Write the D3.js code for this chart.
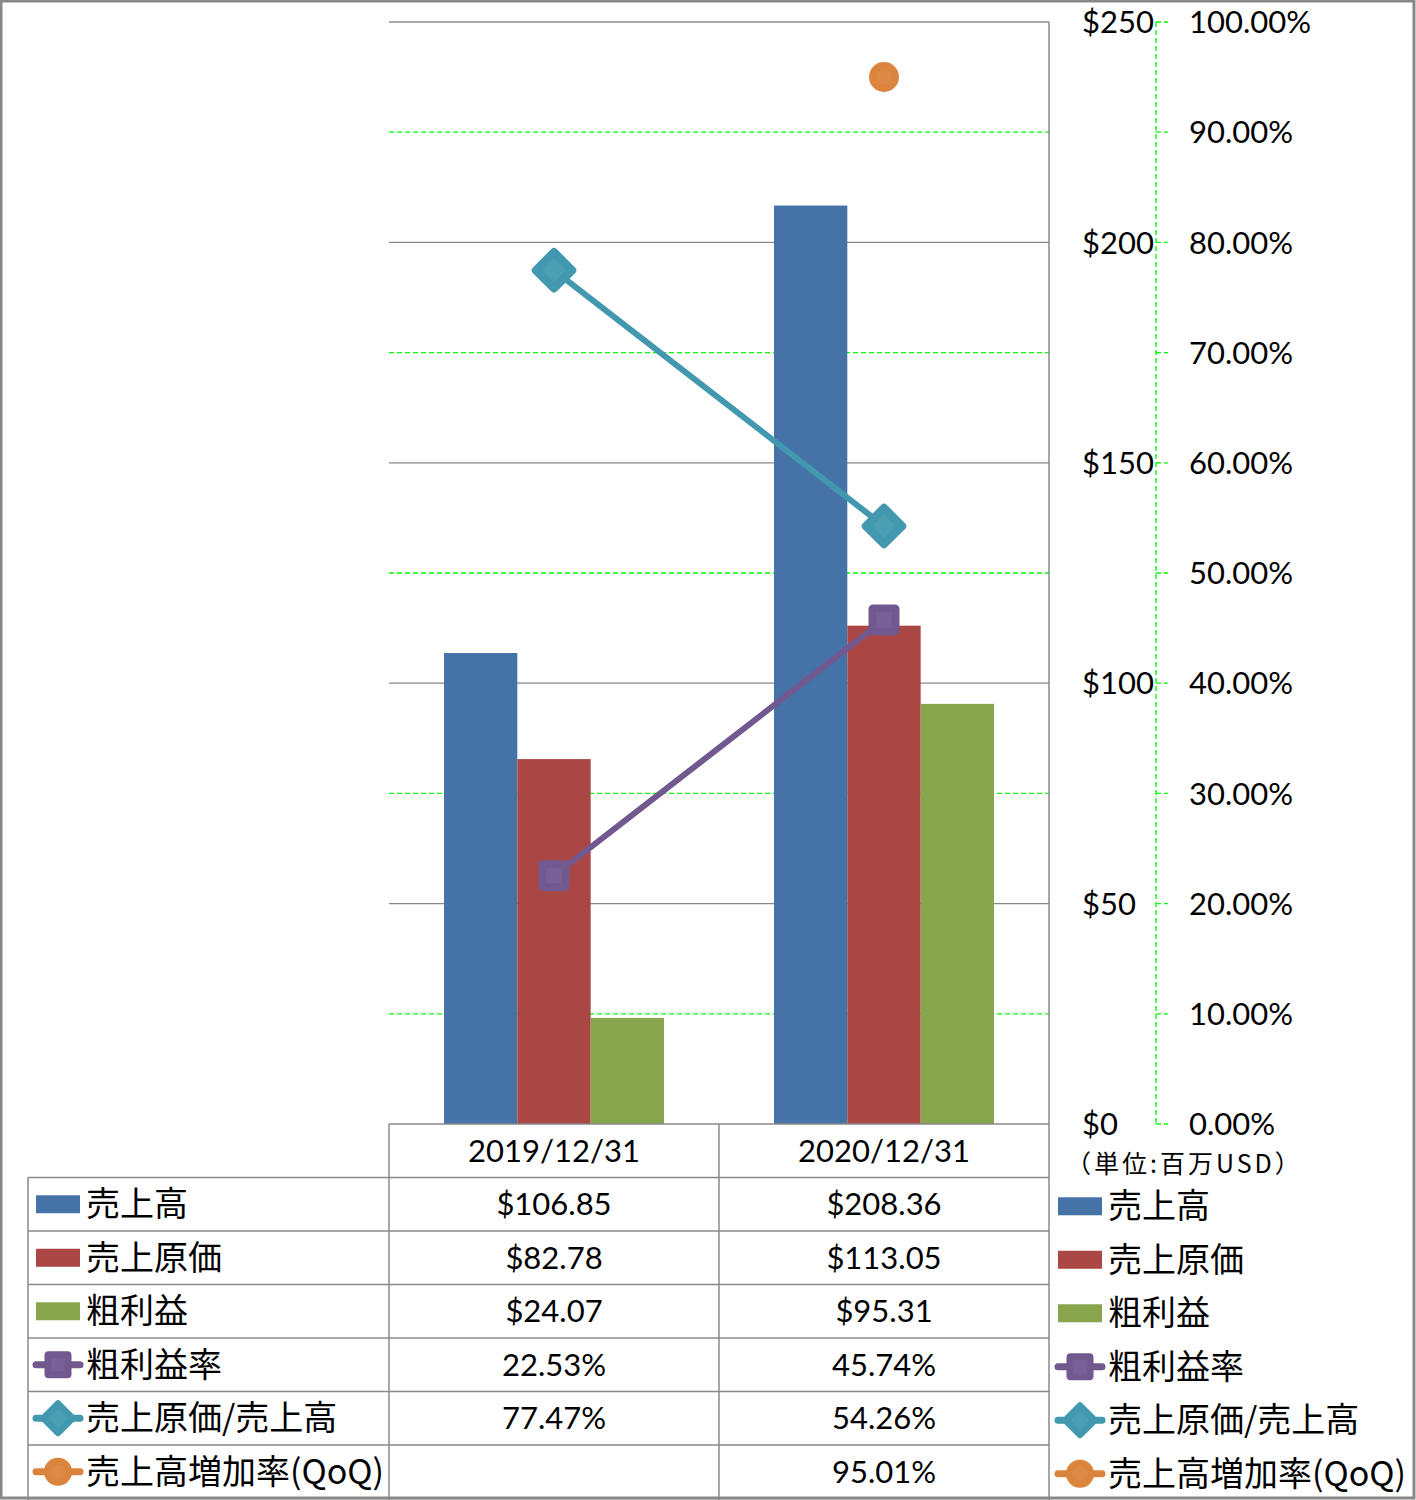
<!DOCTYPE html>
<html>
<head>
<meta charset="utf-8">
<script src="https://cdn.jsdelivr.net/npm/d3@7"></script>
<style>
  body { margin: 0; background: #fff; }
  text { font-family: "Noto Sans CJK JP", "Noto Sans", sans-serif; fill: #000; }
  text.num { font-family: Lato, "Noto Sans", sans-serif; }
</style>
</head>
<body>
<svg id="chart" width="1416" height="1500"></svg>
<script>
// data
var categories = ["2019/12/31", "2020/12/31"];
var sales = [106.85, 208.36];
var cogs = [82.78, 113.05];
var grossProfit = [24.07, 95.31];
var grossMargin = [22.53, 45.74];
var cogsRatio = [77.47, 54.26];
var salesGrowth = [null, 95.01];
var moneyTicks = [0, 50, 100, 150, 200, 250];
var pctTicks = [0, 10, 20, 30, 40, 50, 60, 70, 80, 90, 100];

var barNames = ["売上高", "売上原価", "粗利益"];
var lineNames = ["粗利益率", "売上原価/売上高", "売上高増加率(QoQ)"];

var colors = {
    "売上高": "#4572A7", "売上原価": "#AA4643", "粗利益": "#89A54E",
    "粗利益率": "#71588F", "売上原価/売上高": "#4198AF", "売上高増加率(QoQ)": "#DB843D"
};

var barSeries = [sales, cogs, grossProfit];
var lineSeries = [grossMargin, cogsRatio, salesGrowth];

var margin = { top: 22, left: 389, right: 1049, bottom: 1124 },
    rowH = 53.5,
    tableTop = 1124,
    numSize = "31px";

var svg = d3.select("#chart");

var x = d3.scaleBand().domain(categories).range([margin.left, margin.right]).padding(0);
var xInner = d3.scaleBand().domain(barNames).range([0, x.bandwidth() * 2 / 3]);
var yMoney = d3.scaleLinear().domain([0, 250]).range([margin.bottom, margin.top]);
var yPct = d3.scaleLinear().domain([0, 100]).range([margin.bottom, margin.top]);

// gridlines: green dashed at odd tens of percent, gray at dollar ticks
var grid = svg.append("g");
grid.selectAll("line.green").data(pctTicks.filter(function (d) { return d % 20 === 10; }))
    .enter().append("line")
    .attr("x1", margin.left).attr("x2", margin.right)
    .attr("y1", function (d) { return yPct(d); }).attr("y2", function (d) { return yPct(d); })
    .attr("stroke", "#00FF00").attr("stroke-width", 1.3).attr("stroke-dasharray", "5,3");
grid.selectAll("line.gray").data(moneyTicks.filter(function (d) { return d > 0; }))
    .enter().append("line")
    .attr("x1", margin.left).attr("x2", margin.right)
    .attr("y1", function (d) { return yMoney(d); }).attr("y2", function (d) { return yMoney(d); })
    .attr("stroke", "#888").attr("stroke-width", 1.3);

// bars
barNames.forEach(function (name, si) {
    svg.append("g").selectAll("rect")
        .data(barSeries[si])
        .enter().append("rect")
        .attr("x", function (d, i) { return x(categories[i]) + x.bandwidth() / 6 + xInner(name); })
        .attr("width", xInner.bandwidth())
        .attr("y", function (d) { return yMoney(d); })
        .attr("height", function (d) { return yMoney(0) - yMoney(d); })
        .attr("fill", colors[name]);
});

// markers
function drawMarker(g, name, size) {
    var c = colors[name];
    if (name === "粗利益率") {
        g.append("rect").attr("x", -size / 2).attr("y", -size / 2)
            .attr("width", size).attr("height", size).attr("rx", size * 0.15)
            .attr("fill", c);
        g.append("rect").attr("x", -size / 4).attr("y", -size / 4)
            .attr("width", size / 2).attr("height", size / 2)
            .attr("fill", "#fff").attr("opacity", 0.06);
    } else if (name === "売上原価/売上高") {
        var s = size * 0.72;
        g.append("rect").attr("x", -s / 2).attr("y", -s / 2)
            .attr("width", s).attr("height", s).attr("rx", s * 0.12)
            .attr("transform", "rotate(45)")
            .attr("fill", c);
        g.append("rect").attr("x", -s / 4).attr("y", -s / 4)
            .attr("width", s / 2).attr("height", s / 2)
            .attr("transform", "rotate(45)")
            .attr("fill", "#fff").attr("opacity", 0.06);
    } else {
        g.append("circle").attr("r", size / 2).attr("fill", c);
        g.append("circle").attr("r", size / 4).attr("fill", "#fff").attr("opacity", 0.05);
    }
}

var line = d3.line()
    .defined(function (d) { return d != null; })
    .x(function (d, i) { return x(categories[i]) + x.bandwidth() / 2; })
    .y(function (d) { return yPct(d); });

lineNames.forEach(function (name, si) {
    var vals = lineSeries[si];
    svg.append("path").datum(vals)
        .attr("d", line)
        .attr("fill", "none")
        .attr("stroke", colors[name])
        .attr("stroke-width", 6)
        .attr("stroke-linecap", "round");
    vals.forEach(function (v, i) {
        if (v == null) return;
        var g = svg.append("g")
            .attr("transform", "translate(" + (x(categories[i]) + x.bandwidth() / 2) + "," + yPct(v) + ")");
        drawMarker(g, name, name === "売上高増加率(QoQ)" ? 30 : (name === "粗利益率" ? 31 : 47));
    });
});

// right axes
var axisX = 1156;
svg.append("line")
    .attr("x1", axisX).attr("x2", axisX).attr("y1", margin.top).attr("y2", margin.bottom)
    .attr("stroke", "#00FF00").attr("stroke-width", 1.3).attr("stroke-dasharray", "5,3");
svg.append("g").selectAll("line").data(pctTicks).enter().append("line")
    .attr("x1", axisX).attr("x2", axisX + 12)
    .attr("y1", function (d) { return yPct(d); }).attr("y2", function (d) { return yPct(d); })
    .attr("stroke", "#00FF00").attr("stroke-width", 1.3).attr("stroke-dasharray", "5,3");

svg.append("g").selectAll("text").data(moneyTicks).enter().append("text")
    .attr("class", "num")
    .attr("x", 1082)
    .attr("y", function (d) { return yMoney(d); })
    .attr("dy", "0.36em")
    .style("font-size", numSize)
    .text(function (d) { return "$" + d; });

svg.append("g").selectAll("text").data(pctTicks).enter().append("text")
    .attr("class", "num")
    .attr("x", 1189)
    .attr("y", function (d) { return yPct(d); })
    .attr("dy", "0.36em")
    .style("font-size", numSize)
    .text(function (d) { return d.toFixed(2) + "%"; });

svg.append("text")
    .attr("x", 1066).attr("y", 1173)
    .style("font-size", "25px")
    .style("letter-spacing", "3px")
    .text("（単位:百万USD）");

// data table
var table = svg.append("g").attr("stroke", "#888").attr("stroke-width", 1.5);
table.append("line").attr("x1", margin.left).attr("x2", margin.right)
    .attr("y1", tableTop).attr("y2", tableTop);
var allNames = barNames.concat(lineNames);
d3.range(allNames.length + 1).forEach(function (r) {
    var yy = tableTop + rowH * (r + 1);
    table.append("line").attr("x1", 28).attr("x2", margin.right).attr("y1", yy).attr("y2", yy);
});
table.append("line").attr("x1", 28).attr("x2", 28)
    .attr("y1", tableTop + rowH).attr("y2", 1500);
[margin.left, margin.left + x.bandwidth()].forEach(function (xx) {
    table.append("line").attr("x1", xx).attr("x2", xx).attr("y1", tableTop).attr("y2", 1500);
});
table.append("line").attr("x1", margin.right).attr("x2", margin.right)
    .attr("y1", margin.top).attr("y2", 1500);

svg.append("g").selectAll("text").data(categories).enter().append("text")
    .attr("class", "num")
    .attr("x", function (d) { return x(d) + x.bandwidth() / 2; })
    .attr("y", tableTop + rowH / 2)
    .attr("dy", "0.36em")
    .attr("text-anchor", "middle")
    .style("font-size", numSize)
    .text(function (d) { return d; });

var allSeries = barSeries.concat(lineSeries);
allNames.forEach(function (name, r) {
    var cy = tableTop + rowH * (r + 1) + rowH / 2;
    var isPct = r >= 3;
    svg.append("g").selectAll("text").data(allSeries[r]).enter().append("text")
        .attr("class", "num")
        .attr("x", function (d, i) { return x(categories[i]) + x.bandwidth() / 2; })
        .attr("y", cy)
        .attr("dy", "0.36em")
        .attr("text-anchor", "middle")
        .style("font-size", numSize)
        .text(function (d) {
            if (d == null) return "";
            return isPct ? d.toFixed(2) + "%" : "$" + d.toFixed(2);
        });
});

// legend keys, in table and at right
function legendKey(gx, cy, name, r) {
    var g = svg.append("g").attr("transform", "translate(" + gx + "," + cy + ")");
    if (r < 3) {
        g.append("rect").attr("x", 2).attr("y", -9).attr("width", 44).attr("height", 18)
            .attr("fill", colors[name]);
    } else {
        g.append("line").attr("x1", 2).attr("x2", 46).attr("y1", 0).attr("y2", 0)
            .attr("stroke", colors[name]).attr("stroke-width", 7).attr("stroke-linecap", "round");
        var mg = g.append("g").attr("transform", "translate(24,0)");
        drawMarker(mg, name, r === 3 ? 27 : (r === 4 ? 38 : 28));
    }
    svg.append("text")
        .attr("x", gx + 52).attr("y", cy)
        .attr("dy", "0.36em")
        .style("font-size", "34px")
        .text(name);
}
allNames.forEach(function (name, r) {
    var cy = tableTop + rowH * (r + 1) + rowH / 2;
    legendKey(34, cy, name, r);
    legendKey(1056, cy + 2, name, r);
});

// outer border
svg.append("rect").attr("x", 1).attr("y", 1).attr("width", 1413).attr("height", 1497)
    .attr("fill", "none").attr("stroke", "#888").attr("stroke-width", 3);
</script>
</body>
</html>
